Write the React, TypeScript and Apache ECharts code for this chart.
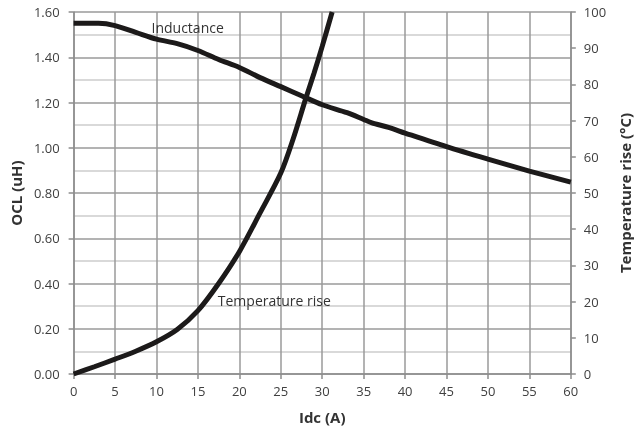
import React, { useEffect, useRef } from "react";
import * as echarts from "echarts";

const inductanceIdc = [0, 3, 5, 7.5, 10, 12.5, 15, 17.5, 20, 22.5, 25, 27.5, 30, 33, 35, 36, 38, 40, 45, 50, 55, 60];
const inductanceValues = [1.55, 1.55, 1.54, 1.51, 1.48, 1.46, 1.43, 1.39, 1.355, 1.31, 1.27, 1.23, 1.19, 1.155, 1.125, 1.11, 1.09, 1.065, 1.005, 0.95, 0.897, 0.848];

const temperatureIdc = [0, 2.5, 5, 7.5, 10, 12.5, 15, 17.5, 20, 22.5, 25, 26.5, 28, 29, 30, 31.2];
const temperatureValues = [0, 2, 4.1, 6.3, 8.9, 12.3, 17.5, 25, 33.8, 44.5, 55.5, 65, 76, 83, 90.5, 100];

const inductanceLabelAt = [9.4, 1.532];
const temperatureLabelAt = [17.4, 20.2];

const FONT = "'Open Sans', 'Noto Sans', sans-serif";
const TEXT = "#404040";
const AXIS = "#8c8c8c";

export default function App() {
  const ref = useRef<HTMLDivElement>(null);
  useEffect(() => {
    if (!ref.current) return;
    const chart = echarts.init(ref.current, null, { renderer: "svg" });
    const indData = inductanceIdc.map((x, i) => [x, inductanceValues[i]]);
    const tempData = temperatureIdc.map((x, i) => [x, temperatureValues[i]]);
    chart.setOption({
      animation: false,
      textStyle: { fontFamily: FONT },
      grid: { left: 73, right: 63, top: 12, bottom: 60, containLabel: false },
      xAxis: {
        type: "value",
        min: 0,
        max: 60,
        interval: 5,
        name: "Idc (A)",
        nameLocation: "middle",
        nameGap: 35,
        nameTextStyle: { fontFamily: FONT, fontSize: 15, fontWeight: "bold", color: "#333" },
        axisLine: { show: true, lineStyle: { color: AXIS, width: 1.5 } },
        axisTick: { show: true, length: 5, lineStyle: { color: AXIS, width: 1.5 } },
        axisLabel: { fontFamily: FONT, fontSize: 13, color: TEXT, margin: 10 },
        splitLine: { show: true, lineStyle: { color: "#9a9a9a", width: 1.5 } },
      },
      yAxis: [
        {
          type: "value",
          min: 0,
          max: 1.6,
          interval: 0.2,
          position: "left",
          name: "OCL (uH)",
          nameLocation: "middle",
          nameGap: 49,
          nameRotate: 90,
          nameTextStyle: { fontFamily: FONT, fontSize: 15, fontWeight: "bold", color: "#333" },
          axisLine: { show: true, lineStyle: { color: AXIS, width: 1.5 } },
          axisTick: { show: true, length: 5, lineStyle: { color: AXIS, width: 1.5 } },
          axisLabel: {
            fontFamily: FONT,
            fontSize: 13,
            color: TEXT,
            margin: 14,
            formatter: (v: number) => v.toFixed(2),
          },
          splitLine: { show: true, lineStyle: { color: "#9a9a9a", width: 1.5 } },
          minorTick: { show: false, splitNumber: 2 },
          minorSplitLine: { show: true, lineStyle: { color: "#cdcdcd", width: 1.5 } },
        },
        {
          type: "value",
          min: 0,
          max: 100,
          interval: 10,
          position: "right",
          name: "Temperature rise (°C)",
          nameLocation: "middle",
          nameGap: 41,
          nameRotate: 90,
          nameTextStyle: { fontFamily: FONT, fontSize: 15, fontWeight: "bold", color: "#333" },
          axisLine: { show: true, lineStyle: { color: AXIS, width: 1.5 } },
          axisTick: { show: true, length: 5, lineStyle: { color: AXIS, width: 1.5 } },
          axisLabel: { fontFamily: FONT, fontSize: 13, color: TEXT, margin: 13 },
          splitLine: { show: false },
        },
      ],
      series: [
        {
          name: "Inductance",
          type: "line",
          yAxisIndex: 0,
          data: indData,
          smooth: 0.3,
          showSymbol: false,
          symbol: "none",
          lineStyle: { color: "#1c1a1a", width: 5 },
          markPoint: {
            symbol: "circle",
            symbolSize: 0,
            data: [{ coord: inductanceLabelAt }],
            label: {
              show: true,
              position: "right",
              distance: 0,
              formatter: "Inductance",
              fontFamily: FONT,
              fontSize: 14,
              color: "#333",
            },
          },
        },
        {
          name: "Temperature rise",
          type: "line",
          yAxisIndex: 1,
          data: tempData,
          smooth: 0.3,
          showSymbol: false,
          symbol: "none",
          lineStyle: { color: "#1c1a1a", width: 5 },
          markPoint: {
            symbol: "circle",
            symbolSize: 0,
            data: [{ coord: temperatureLabelAt }],
            label: {
              show: true,
              position: "right",
              distance: 0,
              formatter: "Temperature rise",
              fontFamily: FONT,
              fontSize: 14,
              color: "#333",
            },
          },
        },
      ],
    });
    return () => chart.dispose();
  }, []);
  return (
    <div
      ref={ref}
      style={{ position: "fixed", left: 0, top: 0, width: 640, height: 434 }}
    />
  );
}
